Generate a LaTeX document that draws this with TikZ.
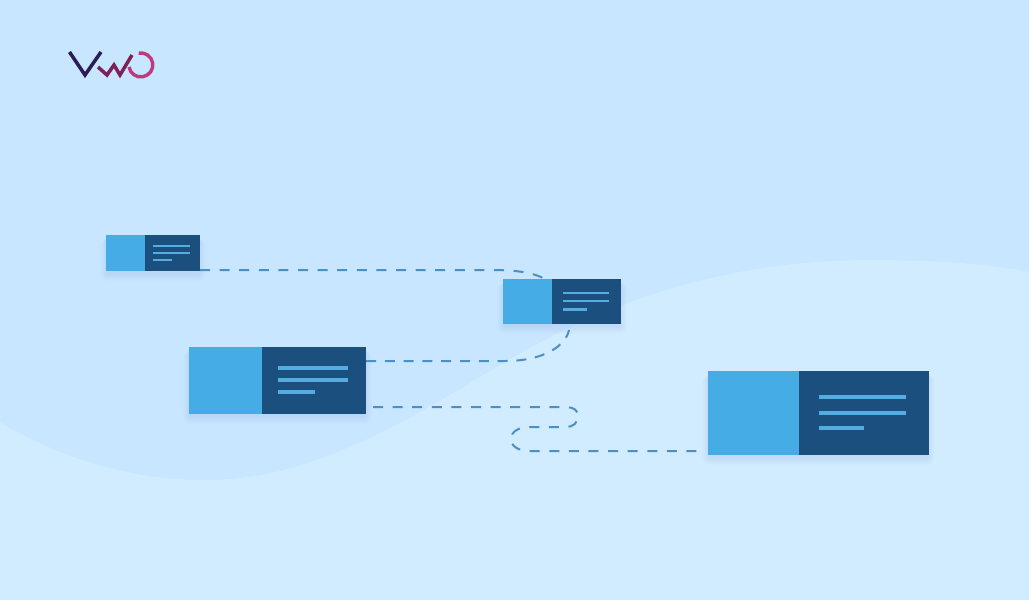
\documentclass[tikz,border=0pt]{standalone}
\usepackage{amsmath,amssymb}
\usetikzlibrary{positioning}
\definecolor{skytop}{HTML}{C8E6FF}
\definecolor{skywave}{HTML}{D1EBFF}
\definecolor{cardlight}{HTML}{45ACE6}
\definecolor{carddark}{HTML}{1A4F7E}
\definecolor{cardline}{HTML}{55ACE0}
\definecolor{dashblue}{HTML}{4A90C6}
\definecolor{logoV}{HTML}{2B1B57}
\definecolor{logoW}{HTML}{7C2257}
\definecolor{logoO}{HTML}{BE3A7C}
\tikzset{
	lightpart/.style = {fill = cardlight, inner sep = 0, outer sep = 0, anchor = north west},
	darkpart/.style = {fill = carddark, inner sep = 0, outer sep = 0, anchor = north west},
	textline/.style = {draw = cardline},
	link/.style = {draw = dashblue, line width = 2pt, dash pattern = on 10pt off 9.6pt},
	logostroke/.style = {line width = 3.5pt, line join = miter}
}

\begin{document}
\begin{tikzpicture}[x = 1pt, y = -1pt]
	\useasboundingbox (0,0) rectangle (1029,600);
	\fill[skytop] (0,0) rectangle (1029,600);
	\fill[skywave] (0,422) .. controls (60,458) and (130,480) .. (205,480) .. controls (310,480) and (400,425) .. (500,365) .. controls (600,305) and (720,260) .. (870,260) .. controls (930,260) and (985,263) .. (1029,272) -- (1029,600) -- (0,600) -- cycle; % wave

	% soft shadows under the cards
	\foreach \xa/\ya/\xb/\yb in {106/235/200/271, 503/279/621/324, 189/347/366/414, 708/371/929/455}{
		\foreach \i in {1,...,8}{
			\fill[carddark, opacity = 0.009, rounded corners = \i] (\xa-\i+2,\ya+4) rectangle (\xb+\i-2,\yb+\i+2);
		}
	}

	% card one
	\node[lightpart, minimum width = 39, minimum height = 36] (cardAlight) at (106,235) {};
	\node[darkpart, minimum width = 55, minimum height = 36] (cardAdark) at (cardAlight.north east) {};
	\draw[textline, line width = 2.1pt] (153,246)--(190,246);
	\draw[textline, line width = 2.1pt] (153,253)--(190,253);
	\draw[textline, line width = 2.1pt] (153,260)--(172,260);

	% card two
	\node[lightpart, minimum width = 49, minimum height = 45] (cardBlight) at (503,279) {};
	\node[darkpart, minimum width = 69, minimum height = 45] (cardBdark) at (cardBlight.north east) {};
	\draw[textline, line width = 2.7pt] (563,293)--(609,293);
	\draw[textline, line width = 2.7pt] (563,301)--(609,301);
	\draw[textline, line width = 2.7pt] (563,309.5)--(587,309.5);

	% card three
	\node[lightpart, minimum width = 73, minimum height = 67] (cardClight) at (189,347) {};
	\node[darkpart, minimum width = 104, minimum height = 67] (cardCdark) at (cardClight.north east) {};
	\draw[textline, line width = 3.4pt] (278,368)--(348,368);
	\draw[textline, line width = 3.4pt] (278,380)--(348,380);
	\draw[textline, line width = 3.4pt] (278,392)--(315,392);

	% card four
	\node[lightpart, minimum width = 91, minimum height = 84] (cardDlight) at (708,371) {};
	\node[darkpart, minimum width = 130, minimum height = 84] (cardDdark) at (cardDlight.north east) {};
	\draw[textline, line width = 4pt] (819,396.5)--(906,396.5);
	\draw[textline, line width = 4pt] (819,412.5)--(906,412.5);
	\draw[textline, line width = 4pt] (819,428)--(864,428);

	% where the dashed links leave the cards
	\coordinate (outA) at ([yshift = 1pt]cardAdark.south east);
	\coordinate (inB) at ([xshift = -7pt]cardBdark.north west);
	\coordinate (outB) at ([xshift = 17pt, yshift = -6pt]cardBdark.south west);
	\coordinate (inC) at ([yshift = 19.5pt]cardCdark.east);
	\coordinate (outC) at ([xshift = 7pt, yshift = 7pt]cardCdark.south east);
	\coordinate (inD) at ([xshift = -8pt, yshift = 4pt]cardDlight.south west);

	\draw[link] (outA) -- (490,270) .. controls (515,270) and (532,272) .. (inB);
	\draw[link, dash pattern = on 10pt off 8.8pt] (inC) -- (505,361) .. controls (545,361) and (566,345) .. (outB);
	\draw[link] (outC) -- (564,407) .. controls (575,407) and (578,411) .. (578,416) .. controls (578,423) and (573,427) .. (566,427) -- (530,427) .. controls (518,427) and (511,432) .. (511,439) .. controls (511,446) and (518,451) .. (530,451) -- (inD);

	% logo
	\draw[logostroke, logoV] (69.5,52) -- (85,75) -- (101,52);
	\draw[logostroke, logoW] (98,67) -- (107,75) -- (114,65) -- (120,75) -- (132,55);
	\draw[logoO, line width = 3.4pt] (129,67) arc[start angle = 170, end angle = -100, radius = 12];
\end{tikzpicture}
\end{document}
